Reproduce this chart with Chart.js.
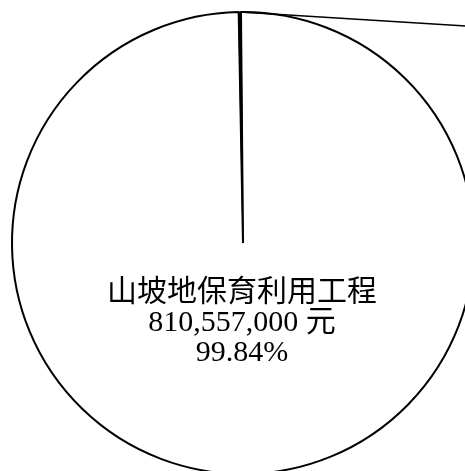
<!DOCTYPE html>
<html lang="zh-Hant">
<head>
<meta charset="UTF-8">
<title>山坡地保育利用工程</title>
<style>
    html, body { margin: 0; padding: 0; background: #fff; overflow: hidden; }
    #wrap { width: 700px; height: 486px; }
    canvas { display: block; }
</style>
<script src="https://cdn.jsdelivr.net/npm/chart.js"></script>
</head>
<body>
<div id="wrap"><canvas id="pieChart" width="700" height="486"></canvas></div>
<script>
// data (second slice's label lies outside the visible crop)
const categories = ["山坡地保育利用工程", "其他"];
const amounts = [810557000, 1300000];
const unit = "元";

const total = amounts.reduce((a, b) => a + b, 0);

const labelFont = '30px "Liberation Serif", "Noto Sans CJK TC", serif';

const sliceLabels = {
    id: "sliceLabels",
    afterDatasetsDraw(chart) {
        const ctx = chart.ctx;
        const arcs = chart.getDatasetMeta(0).data;

        // label inside the big slice
        const big = arcs[0];
        const mid = (big.startAngle + big.endAngle) / 2;
        const dist = big.outerRadius * 0.345;
        const cx = big.x + Math.cos(mid) * dist - 2;
        const cy = big.y + Math.sin(mid) * dist;
        const lines = [
            categories[0],
            amounts[0].toLocaleString("en-US") + " " + unit,
            (amounts[0] / total * 100).toFixed(2) + "%"
        ];
        ctx.save();
        ctx.fillStyle = "#000";
        ctx.font = labelFont;
        ctx.textAlign = "center";
        ctx.textBaseline = "middle";
        lines.forEach((t, i) => ctx.fillText(t, cx, cy + (i - 1) * 30));

        // leader line of the small slice, running off to the right
        const small = arcs[1];
        const sm = (small.startAngle + small.endAngle) / 2;
        const sx = small.x + Math.cos(sm) * small.outerRadius;
        const sy = small.y + Math.sin(sm) * small.outerRadius;
        const ex = chart.width;
        const ey = sy + (ex - sx) * 0.062;
        ctx.strokeStyle = "#000";
        ctx.lineWidth = 1.6;
        ctx.beginPath();
        ctx.moveTo(sx, sy);
        ctx.lineTo(ex, ey);
        ctx.stroke();
        ctx.restore();
    }
};

new Chart(document.getElementById("pieChart").getContext("2d"), {
    type: "pie",
    data: {
        labels: categories,
        datasets: [{
            data: amounts,
            backgroundColor: ["#fff", "#000"],
            borderColor: "#000",
            borderWidth: [2, 1]
        }]
    },
    options: {
        responsive: false,
        animation: false,
        rotation: -0.5,
        layout: { padding: { left: 11, top: 11, bottom: 11, right: 225 } },
        plugins: {
            legend: { display: false },
            tooltip: { enabled: false }
        }
    },
    plugins: [sliceLabels]
});
</script>
</body>
</html>
